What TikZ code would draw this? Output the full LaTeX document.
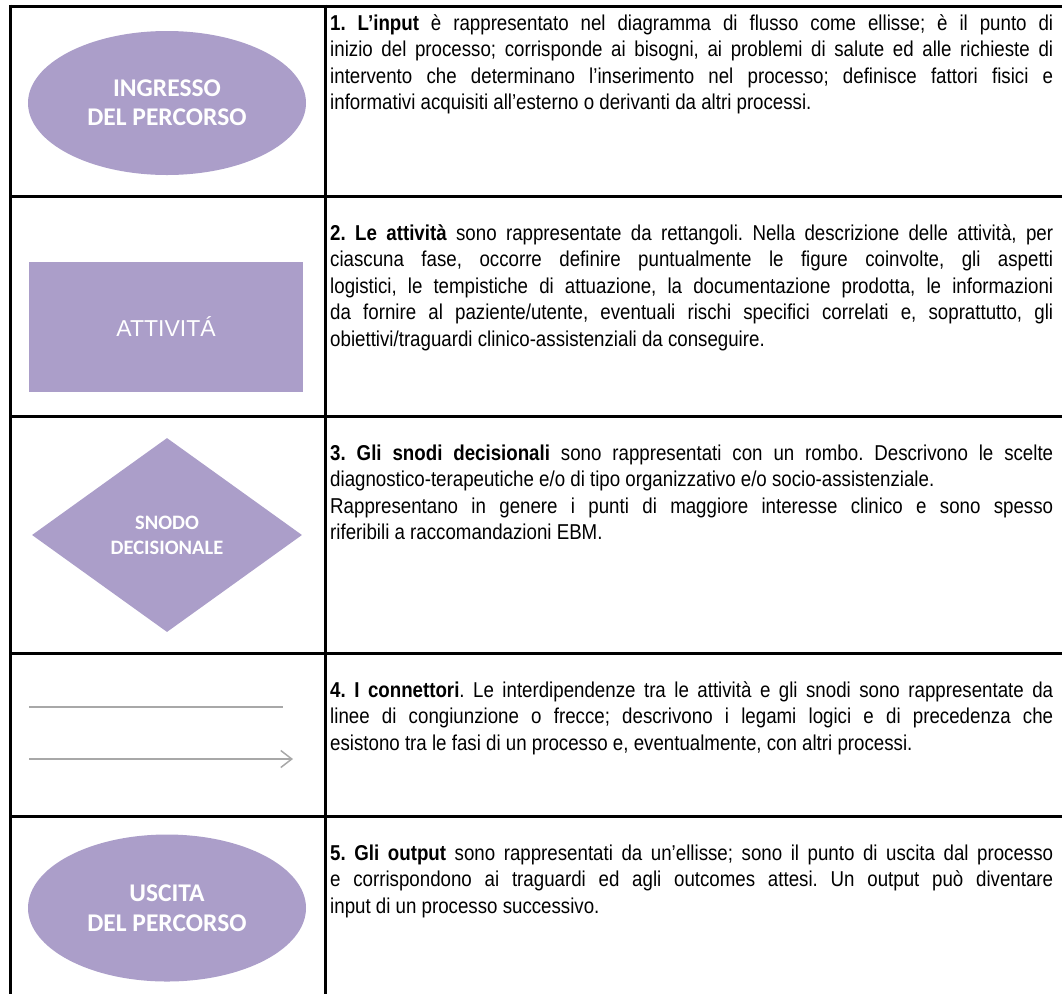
\documentclass[tikz,border=0pt]{standalone}
\usepackage{fontspec}
\setmainfont{Liberation Sans}[FakeStretch=0.87]
\newfontfamily\lblfont{Carlito}[BoldFont={Carlito Bold}]
\newfontfamily\arialfont{Liberation Sans}
\usetikzlibrary{shapes.geometric,arrows.meta}
\definecolor{lav}{HTML}{AB9EC9}
\definecolor{conn}{HTML}{A8A8A8}
\newcommand\nohyph{\frenchspacing\hyphenpenalty=10000\relax\exhyphenpenalty=10000\relax}
\tikzset{
  rule/.style={line width=3pt, draw=black},
  shapefill/.style={fill=lav, draw=none, text=white, inner sep=0pt},
  lblA/.style={font=\lblfont\bfseries\fontsize{25.5}{29}\selectfont, align=center},
  lblB/.style={font=\lblfont\bfseries\fontsize{20.5}{25}\selectfont, align=center},
  lblC/.style={font=\lblfont\bfseries\fontsize{25.5}{30}\selectfont, align=center},
  desc/.style={anchor=base west, text width=723pt, align=justify, inner sep=0pt,
    font=\fontsize{21.5}{26.5}\selectfont},
  conline/.style={draw=conn, line width=1.5pt},
}
\begin{document}
\begin{tikzpicture}[x=1pt,y=-1pt]
\useasboundingbox (0,0) rectangle (1062,994);
% table rules
\draw[rule] (10,6) -- (1062,6);
\draw[rule] (10,196) -- (1062,196);
\draw[rule] (10,416) -- (1062,416);
\draw[rule] (10,653) -- (1062,653);
\draw[rule] (10,816) -- (1062,816);
\draw[rule] (10,4.5) -- (10,994);
\draw[rule] (325,4.5) -- (325,994);
% left column shapes
\node[ellipse, shapefill, lblA, minimum width=278pt, minimum height=144pt] (inE) at (167,103) {INGRESSO\\DEL PERCORSO};
\node[rectangle, shapefill, minimum width=274pt, minimum height=130pt,
  font=\arialfont\fontsize{23}{27}\selectfont] (att) at (166,327) {ATTIVITÁ};
\node[diamond, shapefill, lblB, minimum width=270pt, minimum height=194pt] (dec) at (167,535) {SNODO\\DECISIONALE};
\coordinate (c1a) at (29,707);
\coordinate (c1b) at (283,707);
\coordinate (c2a) at (29,759);
\coordinate (c2b) at (293,759);
\draw[conline] (c1a) -- (c1b);
\draw[conline, -{Straight Barb[length=11pt,width=17pt]}] (c2a) -- (c2b);
\node[ellipse, shapefill, lblC, minimum width=278pt, minimum height=147pt] (outE) at (167,908) {USCITA\\DEL PERCORSO};
% descriptions
\node[desc] (t1) at (330,30) {\nohyph\textbf{1. L’input} è rappresentato nel diagramma di flusso come ellisse; è il punto di\linebreak
inizio del processo; corrisponde ai bisogni, ai problemi di salute ed alle richieste di\linebreak
intervento che determinano l’inserimento nel processo; definisce fattori fisici e\linebreak
informativi acquisiti all'esterno o derivanti da altri processi.};
\node[desc] (t2) at (330,240) {\nohyph\textbf{2. Le attività} sono rappresentate da rettangoli. Nella descrizione delle attività, per\linebreak
ciascuna fase, occorre definire puntualmente le figure coinvolte, gli aspetti\linebreak
logistici, le tempistiche di attuazione, la documentazione prodotta, le informazioni\linebreak
da fornire al paziente/utente, eventuali rischi specifici correlati e, soprattutto, gli\linebreak
obiettivi/traguardi clinico-assistenziali da conseguire.};
\node[desc] (t3) at (330,460) {\nohyph\textbf{3. Gli snodi decisionali} sono rappresentati con un rombo. Descrivono le scelte\linebreak
diagnostico-terapeutiche e/o di tipo organizzativo e/o socio-assistenziale.\par
Rappresentano in genere i punti di maggiore interesse clinico e sono spesso\linebreak
riferibili a raccomandazioni EBM.};
\node[desc] (t4) at (330,697) {\nohyph\textbf{4. I connettori}. Le interdipendenze tra le attività e gli snodi sono rappresentate da\linebreak
linee di congiunzione o frecce; descrivono i legami logici e di precedenza che\linebreak
esistono tra le fasi di un processo e, eventualmente, con altri processi.};
\node[desc] (t5) at (330,860) {\nohyph\textbf{5. Gli output} sono rappresentati da un’ellisse; sono il punto di uscita dal processo\linebreak
e corrispondono ai traguardi ed agli outcomes attesi. Un output può diventare\linebreak
input di un processo successivo.};
\end{tikzpicture}
\end{document}
